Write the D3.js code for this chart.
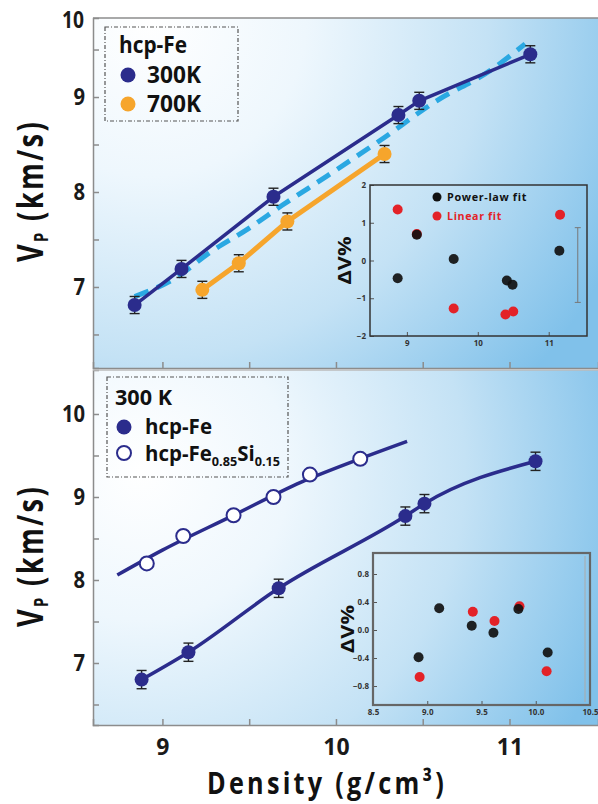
<!DOCTYPE html>
<html>
<head>
<meta charset="utf-8">
<script src="https://cdn.jsdelivr.net/npm/d3@7"></script>
<style>
body { margin: 0; background: #fff; }
text { font-family: "Open Sans", sans-serif; font-weight: bold; }
</style>
</head>
<body>
<div id="chart"></div>
<script>
// ---- data ----
// top panel: hcp-Fe at 300 K and 700 K
var dens300 = [8.84, 9.11, 9.64, 10.36, 10.48, 11.12];
var vp300 = [6.81, 7.19, 7.95, 8.81, 8.96, 9.45];
var err300 = [0.09, 0.09, 0.09, 0.09, 0.09, 0.09];
var dens700 = [9.23, 9.44, 9.72, 10.28];
var vp700 = [6.97, 7.25, 7.69, 8.40];
var err700 = [0.09, 0.09, 0.09, 0.09];
// dashed fit (top panel)
var fitDens = [8.84, 9.08, 9.27, 9.50, 9.69, 9.95, 10.26, 10.58, 10.89, 11.09];
var fitVp = [6.90, 7.10, 7.36, 7.62, 7.86, 8.17, 8.55, 8.96, 9.28, 9.56];

// bottom panel: 300 K, hcp-Fe and hcp-Fe0.85Si0.15
var densFe = [8.88, 9.15, 9.67, 10.40, 10.51, 11.15];
var vpFe = [6.80, 7.13, 7.90, 8.77, 8.92, 9.43];
var errFe = [0.11, 0.11, 0.11, 0.11, 0.11, 0.11];
var densSi = [8.91, 9.12, 9.41, 9.64, 9.85, 10.14];
var vpSi = [8.20, 8.53, 8.78, 9.00, 9.27, 9.46];
var siFitDens = [8.74, 9.00, 9.40, 9.80, 10.10, 10.41];
var siFitVp = [8.06, 8.36, 8.77, 9.18, 9.43, 9.67];

// top inset: deviation of fits, %
var insTopDensP = [8.87, 9.14, 9.66, 10.41, 10.49, 11.15];
var insTopPower = [-0.47, 0.68, 0.04, -0.53, -0.64, 0.26];
var insTopDensL = [8.87, 9.14, 9.66, 10.39, 10.50, 11.16];
var insTopLinear = [1.35, 0.70, -1.27, -1.43, -1.35, 1.21];
var insTopErr = [11.41, -1.11, 0.87];   // representative error bar: x, low, high

// bottom inset
var insBotDensP = [8.92, 9.11, 9.41, 9.61, 9.84, 10.11];
var insBotPower = [-0.39, 0.31, 0.06, -0.04, 0.30, -0.32];
var insBotDensL = [8.93, 9.42, 9.62, 9.85, 10.10];
var insBotLinear = [-0.67, 0.26, 0.13, 0.34, -0.59];

var xTicks = [9, 9.5, 10, 10.5, 11];
var yTicksTop = [6.5, 7, 7.5, 8, 8.5, 9, 9.5];
var yTicksBot = [6.5, 7, 7.5, 8, 8.5, 9, 9.5, 10];

// ---- layout ----
var w = 598, h = 804;
var left = 93, right = 598;
var topY0 = 18, topY1 = 368, botY0 = 370, botY1 = 725;

var navy = "#2b2c8c", orange = "#f6a52c", cyan = "#2aa8e2", axisGray = "#8c8c8c";

var svg = d3.select("#chart").append("svg")
    .attr("width", w)
    .attr("height", h);

// squeeze a text to a given length (the original face is a condensed one)
function squeeze(sel, len) {
    sel.attr("textLength", len).attr("lengthAdjust", "spacingAndGlyphs");
}

var defs = svg.append("defs");
function radial(id, cx, cy, r) {
    var g = defs.append("radialGradient").attr("id", id)
        .attr("gradientUnits", "userSpaceOnUse")
        .attr("cx", cx).attr("cy", cy).attr("r", r);
    g.append("stop").attr("offset", 0).attr("stop-color", "#ffffff");
    g.append("stop").attr("offset", 0.3).attr("stop-color", "#eef7fd");
    g.append("stop").attr("offset", 0.65).attr("stop-color", "#c4e2f5");
    g.append("stop").attr("offset", 1).attr("stop-color", "#80c1ea");
}
radial("gTop", 150, 20, 520);
radial("gBot", 140, 470, 500);

var xScale = d3.scaleLinear().domain([8.60, 11.51]).range([left, right]);
var yTop = d3.scaleLinear().domain([6.147, 9.832]).range([topY1, topY0]);
var yBot = d3.scaleLinear().domain([6.253, 10.53]).range([botY1, botY0]);

// backgrounds
svg.append("rect").attr("x", left).attr("y", topY0)
    .attr("width", right - left).attr("height", topY1 - topY0)
    .attr("fill", "url(#gTop)");
svg.append("rect").attr("x", left).attr("y", botY0)
    .attr("width", right - left).attr("height", botY1 - botY0)
    .attr("fill", "url(#gBot)");

// axes
function styleAxis(g, size) {
    g.select(".domain").attr("stroke", axisGray).attr("stroke-width", 1.5);
    g.selectAll(".tick line").attr("stroke", axisGray).attr("stroke-width", 1.5);
    g.selectAll(".tick text").attr("fill", "#1a1a1a").attr("font-size", size + "px")
        .attr("transform", "scale(0.88,1)");
}
var intFmt = function (d) { return Number.isInteger(d) ? d : ""; };

var yAxisTop = d3.axisLeft(yTop).tickValues(yTicksTop).tickSize(-6).tickPadding(9).tickFormat(intFmt);
svg.append("g").attr("transform", "translate(" + left + ",0)").call(yAxisTop)
    .call(function (g) { styleAxis(g, 23); });
// the "10" label sits at the top edge of the upper panel
svg.append("text").attr("x", left - 9).attr("y", topY0 + 10)
    .attr("text-anchor", "end").attr("font-size", "23px").attr("fill", "#1a1a1a")
    .call(squeeze, 22).text("10");

var yAxisBot = d3.axisLeft(yBot).tickValues(yTicksBot).tickSize(-6).tickPadding(9).tickFormat(intFmt);
svg.append("g").attr("transform", "translate(" + left + ",0)").call(yAxisBot)
    .call(function (g) { styleAxis(g, 23); });

var xAxisTop = d3.axisBottom(xScale).tickValues(xTicks).tickSize(-6).tickFormat("");
svg.append("g").attr("transform", "translate(0," + topY1 + ")").call(xAxisTop)
    .call(function (g) { styleAxis(g, 23); });

var xAxisBot = d3.axisBottom(xScale).tickValues(xTicks).tickSize(-6).tickPadding(14).tickFormat(intFmt);
svg.append("g").attr("transform", "translate(0," + botY1 + ")").call(xAxisBot)
    .call(function (g) {
        styleAxis(g, 23);
        g.selectAll(".tick text").attr("transform", null);
    });

// top border lines
svg.append("line").attr("x1", left).attr("x2", right).attr("y1", topY0).attr("y2", topY0)
    .attr("stroke", axisGray).attr("stroke-width", 1.5);
svg.append("line").attr("x1", left).attr("x2", right).attr("y1", botY0).attr("y2", botY0)
    .attr("stroke", "#bbbbbb").attr("stroke-width", 1.5);

// axis titles
function vpTitle(cy) {
    var t = svg.append("text")
        .attr("transform", "translate(43," + cy + ") rotate(-90)")
        .attr("text-anchor", "middle")
        .attr("font-size", "35px")
        .attr("letter-spacing", "3px")
        .attr("fill", "#111");
    t.append("tspan").text("V");
    t.append("tspan").attr("font-size", "19px").attr("dy", 5).text("P");
    t.append("tspan").attr("dy", -5).text(" (km/s)");
    squeeze(t, 142);
}
vpTitle(191);
vpTitle(556);

svg.append("text").attr("x", 327).attr("y", 794)
    .attr("text-anchor", "middle").attr("font-size", "31px")
    .attr("letter-spacing", "4px").attr("fill", "#111")
    .call(squeeze, 240)
    .text("Density (g/cm³)");

// ---- top panel marks ----
function errorBars(g, data, y, color) {
    var eb = g.append("g").attr("stroke", color).attr("stroke-width", 1.4);
    eb.selectAll(".v").data(data).enter().append("line")
        .attr("x1", function (d) { return xScale(d[0]); })
        .attr("x2", function (d) { return xScale(d[0]); })
        .attr("y1", function (d) { return y(d[1] - d[2]); })
        .attr("y2", function (d) { return y(d[1] + d[2]); });
    [-1, 1].forEach(function (s) {
        eb.selectAll(".c" + s).data(data).enter().append("line")
            .attr("x1", function (d) { return xScale(d[0]) - 5; })
            .attr("x2", function (d) { return xScale(d[0]) + 5; })
            .attr("y1", function (d) { return y(d[1] + s * d[2]); })
            .attr("y2", function (d) { return y(d[1] + s * d[2]); });
    });
}

var pts300 = d3.zip(dens300, vp300, err300);
var pts700 = d3.zip(dens700, vp700, err700);
var fitPts = d3.zip(fitDens, fitVp);

var lineTop = d3.line()
    .x(function (d) { return xScale(d[0]); })
    .y(function (d) { return yTop(d[1]); });

var gTop = svg.append("g");
gTop.append("path").datum(fitPts)
    .attr("d", lineTop.curve(d3.curveMonotoneX))
    .attr("fill", "none").attr("stroke", cyan).attr("stroke-width", 5)
    .attr("stroke-dasharray", "15,9");
gTop.append("path").datum(pts300)
    .attr("d", lineTop.curve(d3.curveLinear))
    .attr("fill", "none").attr("stroke", navy).attr("stroke-width", 3.5)
    .attr("stroke-linejoin", "round");
gTop.append("path").datum(pts700)
    .attr("d", lineTop.curve(d3.curveLinear))
    .attr("fill", "none").attr("stroke", orange).attr("stroke-width", 5);

errorBars(gTop, pts300, yTop, "#222");
errorBars(gTop, pts700, yTop, "#222");
gTop.selectAll(".p300").data(pts300).enter().append("circle")
    .attr("cx", function (d) { return xScale(d[0]); })
    .attr("cy", function (d) { return yTop(d[1]); })
    .attr("r", 7).attr("fill", navy);
gTop.selectAll(".p700").data(pts700).enter().append("circle")
    .attr("cx", function (d) { return xScale(d[0]); })
    .attr("cy", function (d) { return yTop(d[1]); })
    .attr("r", 7).attr("fill", orange);

// top legend
var legT = svg.append("g");
legT.append("rect").attr("x", 105).attr("y", 27).attr("width", 133).attr("height", 94)
    .attr("fill", "none").attr("stroke", "#555").attr("stroke-width", 1.2)
    .attr("stroke-dasharray", "4,2,1,2");
legT.append("text").attr("x", 119).attr("y", 53).attr("font-size", "24px").attr("fill", "#111")
    .call(squeeze, 68).text("hcp-Fe");
legT.append("circle").attr("cx", 128).attr("cy", 75).attr("r", 7.5).attr("fill", navy);
legT.append("text").attr("x", 147).attr("y", 83).attr("font-size", "23px").attr("fill", "#111")
    .call(squeeze, 54).text("300K");
legT.append("circle").attr("cx", 128).attr("cy", 104).attr("r", 7.5).attr("fill", orange);
legT.append("text").attr("x", 147).attr("y", 112).attr("font-size", "23px").attr("fill", "#111")
    .call(squeeze, 54).text("700K");

// ---- bottom panel marks ----
var ptsFe = d3.zip(densFe, vpFe, errFe);
var ptsSi = d3.zip(densSi, vpSi);
var siFit = d3.zip(siFitDens, siFitVp);
var lineBot = d3.line()
    .x(function (d) { return xScale(d[0]); })
    .y(function (d) { return yBot(d[1]); });

var gBot = svg.append("g");
gBot.append("path").datum(siFit)
    .attr("d", lineBot.curve(d3.curveMonotoneX))
    .attr("fill", "none").attr("stroke", navy).attr("stroke-width", 3.5);
gBot.append("path").datum(ptsFe)
    .attr("d", lineBot.curve(d3.curveMonotoneX))
    .attr("fill", "none").attr("stroke", navy).attr("stroke-width", 3.5);
errorBars(gBot, ptsFe, yBot, "#222");
gBot.selectAll(".pFe").data(ptsFe).enter().append("circle")
    .attr("cx", function (d) { return xScale(d[0]); })
    .attr("cy", function (d) { return yBot(d[1]); })
    .attr("r", 7).attr("fill", navy);
gBot.selectAll(".pSi").data(ptsSi).enter().append("circle")
    .attr("cx", function (d) { return xScale(d[0]); })
    .attr("cy", function (d) { return yBot(d[1]); })
    .attr("r", 7).attr("fill", "#fff").attr("stroke", navy).attr("stroke-width", 2);

// bottom legend
var legB = svg.append("g");
legB.append("rect").attr("x", 107).attr("y", 377).attr("width", 181).attr("height", 100)
    .attr("fill", "none").attr("stroke", "#555").attr("stroke-width", 1.2)
    .attr("stroke-dasharray", "4,2,1,2");
legB.append("text").attr("x", 115).attr("y", 405).attr("font-size", "22px").attr("fill", "#111")
    .call(squeeze, 57).text("300 K");
legB.append("circle").attr("cx", 124).attr("cy", 427).attr("r", 7.5).attr("fill", navy);
legB.append("text").attr("x", 145).attr("y", 434).attr("font-size", "21px").attr("fill", "#111")
    .call(squeeze, 67).text("hcp-Fe");
legB.append("circle").attr("cx", 124).attr("cy", 453).attr("r", 7).attr("fill", "#fff")
    .attr("stroke", navy).attr("stroke-width", 2);
var tSi = legB.append("text").attr("x", 145).attr("y", 461).attr("font-size", "21px").attr("fill", "#111");
tSi.append("tspan").text("hcp-Fe");
tSi.append("tspan").attr("font-size", "13px").attr("dy", 5).text("0.85");
tSi.append("tspan").attr("dy", -5).text("Si");
tSi.append("tspan").attr("font-size", "13px").attr("dy", 5).text("0.15");
squeeze(tSi, 135);

// ---- insets ----
function inset(box, xDom, yDom, xT, yT, fmt, powX, powY, linX, linY, border) {
    var xs = d3.scaleLinear().domain(xDom).range([box.x0, box.x1]);
    var ys = d3.scaleLinear().domain(yDom).range([box.y1, box.y0]);
    var g = svg.append("g");
    g.append("g").attr("transform", "translate(0," + box.y1 + ")")
        .call(d3.axisBottom(xs).tickValues(xT).tickSize(-4).tickPadding(4).tickFormat(fmt))
        .call(function (a) {
            a.select(".domain").remove();
            a.selectAll(".tick line").attr("stroke", "#555");
            a.selectAll(".tick text").attr("font-size", "8px").attr("fill", "#333");
        });
    g.append("g").attr("transform", "translate(" + box.x0 + ",0)")
        .call(d3.axisLeft(ys).tickValues(yT).tickSize(-4).tickPadding(4).tickFormat(fmt))
        .call(function (a) {
            a.select(".domain").remove();
            a.selectAll(".tick line").attr("stroke", "#555");
            a.selectAll(".tick text").attr("font-size", "8px").attr("fill", "#333");
        });
    g.append("rect").attr("x", box.x0).attr("y", box.y0)
        .attr("width", box.x1 - box.x0).attr("height", box.y1 - box.y0)
        .attr("fill", "none").attr("stroke", border.color).attr("stroke-width", border.width);
    g.selectAll(".lin").data(d3.zip(linX, linY)).enter().append("circle")
        .attr("cx", function (d) { return xs(d[0]); })
        .attr("cy", function (d) { return ys(d[1]); })
        .attr("r", 5).attr("fill", "#e32228");
    g.selectAll(".pow").data(d3.zip(powX, powY)).enter().append("circle")
        .attr("cx", function (d) { return xs(d[0]); })
        .attr("cy", function (d) { return ys(d[1]); })
        .attr("r", 5).attr("fill", "#111").attr("fill-opacity", 0.92);
    g.append("text")
        .attr("transform", "translate(" + (box.x0 - 19) + "," + ((box.y0 + box.y1) / 2) + ") rotate(-90)")
        .attr("text-anchor", "middle").attr("font-size", "17px").attr("fill", "#111")
        .call(squeeze, 48)
        .text("ΔV%");
    return { g: g, xs: xs, ys: ys };
}

var insT = inset({ x0: 370, x1: 587, y0: 185, y1: 336 }, [8.48, 11.54], [-2, 2],
    [9, 10, 11], [-2, -1, 0, 1, 2], d3.format("d"),
    insTopDensP, insTopPower, insTopDensL, insTopLinear, { color: "#333", width: 1.5 });

// legend inside top inset
insT.g.append("circle").attr("cx", 437).attr("cy", 197).attr("r", 4.5).attr("fill", "#111");
insT.g.append("text").attr("x", 447).attr("y", 201).attr("font-size", "10px")
    .attr("letter-spacing", "0.6px").attr("fill", "#111").call(squeeze, 80).text("Power-law fit");
insT.g.append("circle").attr("cx", 437).attr("cy", 216).attr("r", 4.5).attr("fill", "#e32228");
insT.g.append("text").attr("x", 447).attr("y", 220).attr("font-size", "10px")
    .attr("letter-spacing", "0.6px").attr("fill", "#e32228").call(squeeze, 55).text("Linear fit");

// representative error bar in top inset
var ebx = insT.xs(insTopErr[0]);
insT.g.append("line").attr("x1", ebx).attr("x2", ebx)
    .attr("y1", insT.ys(insTopErr[1])).attr("y2", insT.ys(insTopErr[2]))
    .attr("stroke", "#777").attr("stroke-width", 1);
[insTopErr[1], insTopErr[2]].forEach(function (v) {
    insT.g.append("line").attr("x1", ebx - 3).attr("x2", ebx + 3)
        .attr("y1", insT.ys(v)).attr("y2", insT.ys(v))
        .attr("stroke", "#777").attr("stroke-width", 1);
});

var insB = inset({ x0: 373, x1: 590, y0: 553, y1: 705 }, [8.5, 10.5], [-1.071, 1.1],
    [8.5, 9, 9.5, 10, 10.5], [-0.8, -0.4, 0, 0.4, 0.8], d3.format(".1f"),
    insBotDensP, insBotPower, insBotDensL, insBotLinear, { color: "#666", width: 2.2 });
insB.g.append("line").attr("x1", 585).attr("x2", 585).attr("y1", 556).attr("y2", 702)
    .attr("stroke", "#aaa").attr("stroke-width", 1);
</script>
</body>
</html>
